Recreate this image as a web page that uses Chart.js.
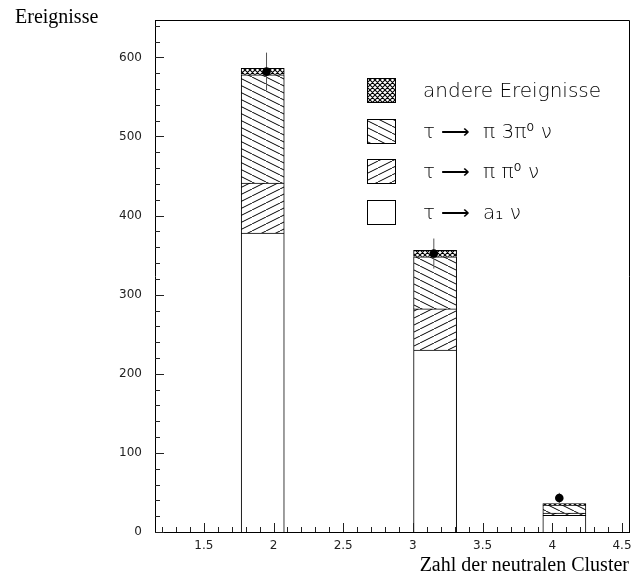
<!DOCTYPE html>
<html>
<head>
<meta charset="utf-8">
<script src="https://cdn.jsdelivr.net/npm/chart.js@4.4.1/dist/chart.umd.min.js"></script>
<style>
  html, body { margin: 0; padding: 0; background: #fff; }
  #chart { display: block; }
</style>
</head>
<body>
<canvas id="chart" width="641" height="578"></canvas>
<script>
// bins (width 0.3) that hold events, by bin centre
const clusterBins = [1.95, 3.15, 4.05];

// stacked Monte Carlo contributions
const a1Nu      = [378, 230, 21];
const piPi0Nu   = [63, 52, 3];
const pi3Pi0Nu  = [137, 66, 10];
const otherEvts = [8, 8, 2];

// measured data and statistical errors
const dataCounts = [582, 352, 43];
const dataErrors = [24, 19, 6.5];

// axis labels
const xMajorTicks = [1.5, 2, 2.5, 3, 3.5, 4, 4.5];
const yMajorTicks = [0, 100, 200, 300, 400, 500, 600];
const seriesLabels = ['τ ⟶  a₁ ν', 'τ ⟶  π π⁰ ν', 'τ ⟶  π 3π⁰ ν', 'andere Ereignisse'];

const X_MIN = 1.2, X_MAX = 4.5, BIN_WIDTH = 0.3, X_MINOR = 0.1;
const Y_MAX = 647, Y_MINOR = 20;

const tickFont = { family: '"DejaVu Sans"', size: 12 };

// hatch patterns
function hatch(dirs, w, h, lw) {
    const c = document.createElement('canvas');
    c.width = w; c.height = h;
    const g = c.getContext('2d');
    g.fillStyle = '#fff';
    g.fillRect(0, 0, w, h);
    g.strokeStyle = '#000';
    g.lineWidth = lw;
    g.beginPath();
    for (let k = -1; k <= 1; k++) {
        if (dirs.includes('/')) {
            g.moveTo(k * w, h - k * h);
            g.lineTo((k + 1) * w, -k * h);
        }
        if (dirs.includes('\\')) {
            g.moveTo(k * w, k * h);
            g.lineTo((k + 1) * w, (k + 1) * h);
        }
    }
    g.stroke();
    return g.createPattern(c, 'repeat');
}

const fills = [
    '#fff',
    hatch('/', 14, 7, 1),
    hatch('\\', 14, 7, 1),
    hatch('/\\', 5, 5, 1.1)
];

// hidden category axis: one slot per histogram bin
const nBins = Math.round((X_MAX - X_MIN) / BIN_WIDTH);
const binLabels = [];
for (let i = 0; i < nBins; i++) binLabels.push((X_MIN + (i + 0.5) * BIN_WIDTH).toFixed(2));

function barSet(idx, values) {
    return {
        type: 'bar',
        label: seriesLabels[idx],
        data: clusterBins.map((b, i) => ({ x: b.toFixed(2), y: values[i] })),
        xAxisID: 'xBins',
        yAxisID: 'y',
        stack: 'mc',
        grouped: false,
        backgroundColor: fills[idx],
        borderColor: '#000',
        borderWidth: 1,
        borderSkipped: 'start',
        barPercentage: 1,
        categoryPercentage: 1,
        order: 2
    };
}

const errorSegments = [];
clusterBins.forEach((b, i) => {
    errorSegments.push({ x: b, y: dataCounts[i] - dataErrors[i] });
    errorSegments.push({ x: b, y: dataCounts[i] + dataErrors[i] });
    errorSegments.push({ x: b, y: null });
});

// inward ticks, top/right frame, legend and y title
const hbookDecor = {
    id: 'hbookDecor',
    afterDatasetsDraw(chart) {
        const { ctx, chartArea: a, scales } = chart;
        ctx.save();
        ctx.strokeStyle = '#000';
        ctx.lineWidth = 1;
        ctx.beginPath();
        ctx.moveTo(a.left, Math.round(a.top) + 0.5);
        ctx.lineTo(Math.round(a.right) + 0.5, Math.round(a.top) + 0.5);
        ctx.lineTo(Math.round(a.right) + 0.5, a.bottom);
        ctx.stroke();

        ctx.strokeStyle = '#222';
        ctx.beginPath();
        scales.x.ticks.forEach(t => {
            const px = Math.round(scales.x.getPixelForValue(t.value)) + 0.5;
            const len = t.label ? 9 : 5;
            ctx.moveTo(px, a.bottom);
            ctx.lineTo(px, a.bottom - len);
        });
        scales.y.ticks.forEach(t => {
            const py = Math.round(scales.y.getPixelForValue(t.value)) + 0.5;
            const len = t.label ? 9 : 5;
            ctx.moveTo(a.left, py);
            ctx.lineTo(a.left + len, py);
        });
        ctx.stroke();

        // legend, top entry = top of stack
        const bars = chart.data.datasets.filter(d => d.type === 'bar').slice().reverse();
        const x0 = a.left + 212, y0 = a.top + 58;
        bars.forEach((ds, i) => {
            const y = Math.round(y0 + i * 40.6);
            ctx.fillStyle = ds.backgroundColor;
            ctx.fillRect(x0, y, 29, 25);
            ctx.strokeStyle = '#000';
            ctx.strokeRect(x0 + 0.5, y + 0.5, 28, 24);
            ctx.fillStyle = '#000';
            ctx.font = '200 20px "DejaVu Sans"';
            ctx.textBaseline = 'alphabetic';
            ctx.textAlign = 'left';
            ctx.fillText(ds.label, x0 + 56, y + 19);
        });

        ctx.font = '20px "Liberation Serif"';
        ctx.fillStyle = '#000';
        ctx.fillText('Ereignisse', 15, 23);
        ctx.restore();
    }
};

new Chart(document.getElementById('chart'), {
    type: 'bar',
    data: {
        datasets: [
            {
                type: 'scatter',
                label: 'Daten',
                data: clusterBins.map((b, i) => ({ x: b, y: dataCounts[i] })),
                xAxisID: 'x',
                yAxisID: 'yPts',
                pointRadius: 4.3,
                pointBackgroundColor: '#000',
                pointBorderWidth: 0,
                showLine: false,
                order: 0
            },
            {
                type: 'line',
                label: 'Fehler',
                data: errorSegments,
                xAxisID: 'x',
                yAxisID: 'yPts',
                borderColor: '#555',
                borderWidth: 1,
                pointRadius: 0,
                spanGaps: false,
                fill: false,
                order: 1
            },
            barSet(0, a1Nu),
            barSet(1, piPi0Nu),
            barSet(2, pi3Pi0Nu),
            barSet(3, otherEvts)
        ]
    },
    options: {
        responsive: false,
        animation: false,
        events: [],
        layout: { padding: { left: 0, right: 12, top: 10, bottom: 0 } },
        plugins: {
            legend: { display: false },
            tooltip: { enabled: false }
        },
        scales: {
            xBins: {
                type: 'category',
                labels: binLabels,
                offset: true,
                display: false
            },
            x: {
                type: 'linear',
                position: 'bottom',
                min: X_MIN,
                max: X_MAX,
                afterBuildTicks: s => {
                    const n = Math.round((X_MAX - X_MIN) / X_MINOR);
                    const t = [];
                    for (let k = 0; k <= n; k++) t.push({ value: +(X_MIN + k * X_MINOR).toFixed(2) });
                    s.ticks = t;
                },
                afterFit: s => { s.height = 46; },
                ticks: {
                    autoSkip: false,
                    maxRotation: 0,
                    minRotation: 0,
                    padding: 7,
                    color: '#222',
                    font: tickFont,
                    callback: v => {
                        const m = xMajorTicks.find(x => Math.abs(x - v) < 1e-6);
                        return m === undefined ? '' : String(m);
                    }
                },
                grid: { display: false, drawTicks: false },
                border: { display: true, color: '#000', width: 1 },
                title: {
                    display: true,
                    text: 'Zahl der neutralen Cluster',
                    align: 'end',
                    color: '#000',
                    font: { family: '"Liberation Serif"', size: 20 },
                    padding: { top: 0, bottom: 0 }
                }
            },
            y: {
                type: 'linear',
                stacked: true,
                min: 0,
                max: Y_MAX,
                afterBuildTicks: s => {
                    const t = [];
                    for (let v = 0; v <= Y_MAX; v += Y_MINOR) t.push({ value: v });
                    s.ticks = t;
                },
                afterFit: s => { s.width = 155; },
                ticks: {
                    autoSkip: false,
                    padding: 13,
                    color: '#222',
                    font: tickFont,
                    callback: v => yMajorTicks.includes(v) ? String(v) : ''
                },
                grid: { display: false, drawTicks: false },
                border: { display: true, color: '#000', width: 1 }
            },
            yPts: {
                type: 'linear',
                min: 0,
                max: Y_MAX,
                display: false
            }
        }
    },
    plugins: [hbookDecor]
});
</script>
</body>
</html>
